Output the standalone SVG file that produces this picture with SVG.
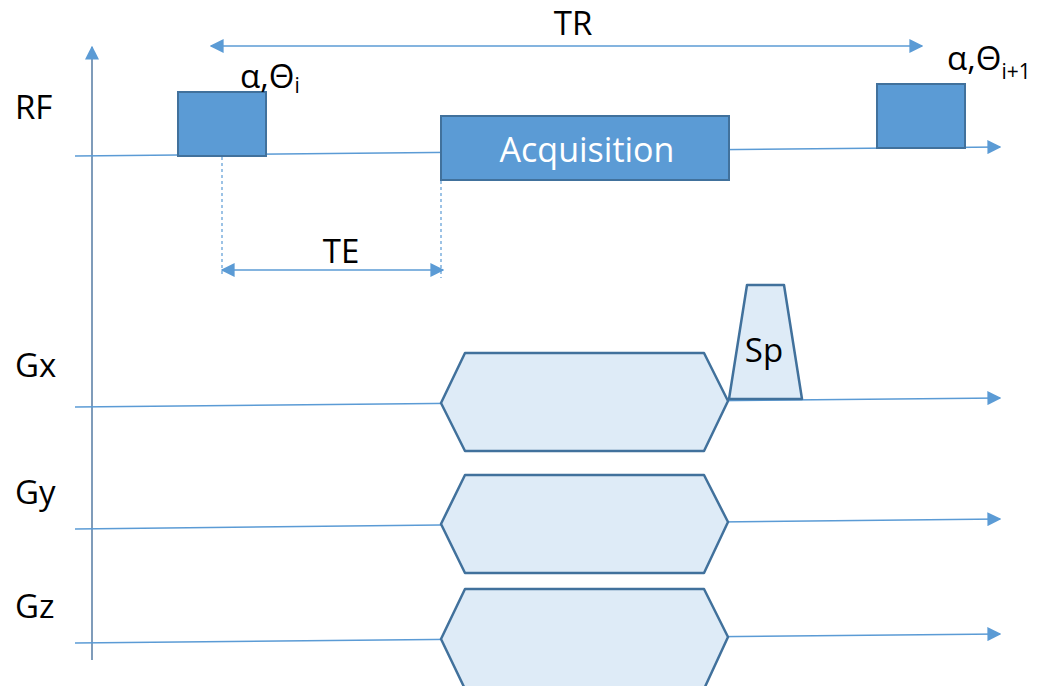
<svg xmlns="http://www.w3.org/2000/svg" width="1041" height="686" viewBox="0 0 1041 686">
<defs>
<marker id="ahb" viewBox="0 0 10 10" refX="9" refY="5" markerWidth="14" markerHeight="14" markerUnits="userSpaceOnUse" orient="auto-start-reverse">
<path d="M0,0 L10,5 L0,10 z" fill="#5B9BD5"/>
</marker>
</defs>
<style>
.lbl{font-family:"Open Sans","Liberation Sans",sans-serif;font-size:33px;fill:#000}
.ln{stroke:#5B9BD5;stroke-width:1.5;fill:none}
.rf{fill:#5B9BD5;stroke:#41719C;stroke-width:2}
.hx{fill:#DEEBF7;stroke:#41719C;stroke-width:2.5;stroke-linejoin:round}
.dash{stroke:#5B9BD5;stroke-width:1.2;stroke-dasharray:3,3;fill:none}
</style>
<rect width="1041" height="686" fill="#fff"/>
<g id="connectors">
<line x1="92" y1="660" x2="92" y2="47" stroke="#7F9CBA" stroke-width="2" marker-end="url(#ahb)"/>
<line class="ln" x1="75" y1="156" x2="1000" y2="147" marker-end="url(#ahb)"/>
<line class="ln" x1="75" y1="407" x2="1000" y2="398" marker-end="url(#ahb)"/>
<line class="ln" x1="75" y1="529" x2="1000" y2="519" marker-end="url(#ahb)"/>
<line class="ln" x1="75" y1="643" x2="1000" y2="634" marker-end="url(#ahb)"/>
<line class="ln" x1="211" y1="46" x2="922" y2="46" marker-start="url(#ahb)" marker-end="url(#ahb)"/>
<line class="ln" x1="222" y1="270" x2="443" y2="270" marker-start="url(#ahb)" marker-end="url(#ahb)"/>
<line class="dash" x1="222" y1="157" x2="222" y2="276"/>
<line class="dash" x1="441" y1="181" x2="441" y2="278"/>
</g>
<g id="rf-pulse-1"><rect class="rf" x="178" y="92" width="88" height="64"/></g>
<g id="acquisition">
<rect class="rf" x="441" y="116" width="288" height="64"/>
<text x="587" y="162" text-anchor="middle" font-family="Open Sans, Liberation Sans, sans-serif" font-size="34" fill="#fff">Acquisition</text>
</g>
<g id="rf-pulse-2"><rect class="rf" x="877" y="84" width="88" height="64"/></g>
<g id="gx-readout"><polygon class="hx" points="441,403 465,353 704,353 728,401 704,451 465,451"/></g>
<g id="spoiler">
<polygon class="hx" points="729,399 747,285 784,285 802,399"/>
<text class="lbl" x="764" y="362" text-anchor="middle">Sp</text>
</g>
<g id="gy-block"><polygon class="hx" points="441,524 465,475 704,475 728,522 704,573 465,573"/></g>
<g id="gz-block"><polygon class="hx" points="441,639 465,589 704,589 728,637 704,689 465,689"/></g>
<g id="labels">
<text class="lbl" x="15" y="119">RF</text>
<text class="lbl" x="15" y="377">Gx</text>
<text class="lbl" x="15" y="504">Gy</text>
<text class="lbl" x="15" y="618">Gz</text>
<text class="lbl" x="573" y="35" text-anchor="middle" font-size="32">TR</text>
<text class="lbl" x="341" y="263" text-anchor="middle" font-size="34">TE</text>
<text class="lbl" x="240" y="88" font-size="32">α,Θ<tspan font-size="21" dy="5">i</tspan></text>
<text class="lbl" x="947" y="70" font-size="32">α,Θ<tspan font-size="21" dy="9">i+1</tspan></text>
</g>
</svg>
